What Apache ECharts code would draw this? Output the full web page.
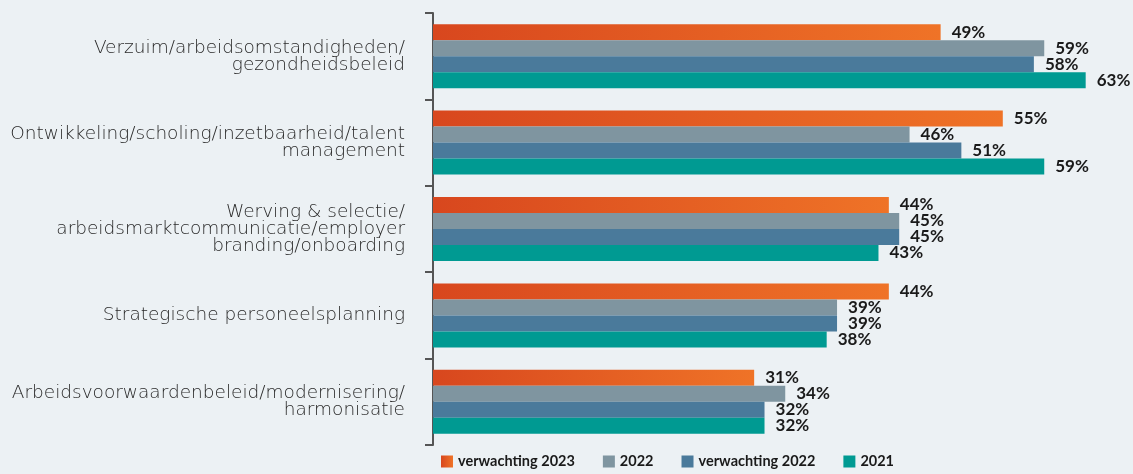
<!DOCTYPE html>
<html lang="nl">
<head>
<meta charset="UTF-8">
<title>HR-thema's</title>
<script src="https://cdn.jsdelivr.net/npm/echarts@6/dist/echarts.min.js"></script>
<style>
  html, body { margin: 0; padding: 0; background: #ecf1f4; }
  #main { width: 1133px; height: 474px; }
</style>
</head>
<body>
<div id="main"></div>
<script>
var categories = [
    'Verzuim/arbeidsomstandigheden/\ngezondheidsbeleid',
    'Ontwikkeling/scholing/inzetbaarheid/talent\nmanagement',
    'Werving & selectie/\narbeidsmarktcommunicatie/employer\nbranding/onboarding',
    'Strategische personeelsplanning',
    'Arbeidsvoorwaardenbeleid/modernisering/\nharmonisatie'
];
var seriesNames = ['verwachting 2023', '2022', 'verwachting 2022', '2021'];
var verwachting2023 = [49, 55, 44, 44, 31];
var jaar2022 = [59, 46, 45, 39, 34];
var verwachting2022 = [58, 51, 45, 39, 32];
var jaar2021 = [63, 59, 43, 38, 32];

var orange = new echarts.graphic.LinearGradient(0, 0, 1, 0, [
    { offset: 0, color: '#d8471e' },
    { offset: 1, color: '#ef7327' }
]);
var colors = [orange, '#7f95a0', '#4a7a9b', '#009a92'];
var values = [verwachting2023, jaar2022, verwachting2022, jaar2021];

var myChart = echarts.init(document.getElementById('main'));

var series = [];
for (var i = 0; i < values.length; i++) {
    series.push({
        name: seriesNames[i],
        type: 'bar',
        data: values[i],
        barWidth: 16,
        barGap: '0%',
        itemStyle: { color: colors[i] },
        label: {
            show: true,
            position: 'right',
            distance: 11,
            formatter: '{c}%',
            color: '#1a1a1a',
            fontFamily: 'Lato',
            fontWeight: 'bold',
            fontSize: 17
        }
    });
}

var option = {
    backgroundColor: '#ecf1f4',
    animation: false,
    grid: { left: 433, top: 13, height: 432, width: 673.4 },
    legend: {
        bottom: 0,
        left: 436,
        itemWidth: 12,
        itemHeight: 12,
        itemGap: 28,
        icon: 'rect',
        textStyle: { color: '#1a1a1a', fontFamily: 'Lato', fontWeight: 'bold', fontSize: 14.5 },
        data: seriesNames
    },
    xAxis: {
        type: 'value',
        min: 0,
        max: 65,
        show: false
    },
    yAxis: {
        type: 'category',
        data: categories,
        inverse: true,
        axisLine: { show: true, lineStyle: { color: '#555', width: 2 } },
        axisTick: { show: true, length: 8, alignWithLabel: false, lineStyle: { color: '#555', width: 2 } },
        axisLabel: {
            margin: 28,
            color: '#2a2a2a',
            fontFamily: 'DejaVu Sans',
            fontWeight: 200,
            fontSize: 18.5,
            lineHeight: 17,
            align: 'right'
        }
    },
    series: series
};
myChart.setOption(option);
</script>
</body>
</html>
